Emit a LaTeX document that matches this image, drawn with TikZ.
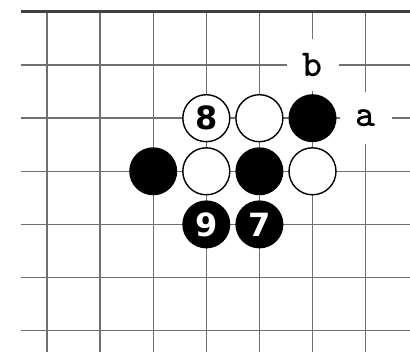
\documentclass[tikz,border=0pt]{standalone}
\usepackage{fontspec}
\newfontfamily\numfont{DejaVu Sans}
\definecolor{gridc}{RGB}{112,112,112}
\begin{document}
\begin{tikzpicture}[x=1pt,y=-1pt,
  gridline/.style={draw=gridc,line width=1.4},
  edgeline/.style={draw=black!75,line width=3},
  wstone/.style={circle,draw=black,line width=1.4,fill=white,minimum size=47,inner sep=0,
     font=\numfont\bfseries\fontsize{32}{32}\selectfont},
  bstone/.style={circle,fill=black,minimum size=48,inner sep=0,text=white,
     font=\numfont\bfseries\fontsize{32}{32}\selectfont},
  lbl/.style={fill=white,minimum size=52,inner sep=0,
     font=\ttfamily\bfseries\fontsize{38}{38}\selectfont}]
\useasboundingbox (0,0) rectangle (410,352);
\def\gs{53.1}
% grid
\foreach \j in {1,...,6} {
  \draw[gridline] (21,12+\j*\gs) -- (410,12+\j*\gs);
}
\foreach \i in {0,...,6} {
  \draw[gridline] (47+\i*\gs,12) -- (47+\i*\gs,352);
}
\draw[edgeline] (21,12) -- (410,12);
% labels
\node[lbl] (b) at (47+5*\gs,12+1*\gs) {b};
\node[lbl] (a) at (47+6*\gs,12+2*\gs) {a};
% stones
\node[wstone] (w8) at (47+3*\gs,12+2*\gs) {8};
\node[wstone] (w1) at (47+4*\gs,12+2*\gs) {};
\node[bstone] (b1) at (47+5*\gs,12+2*\gs) {};
\node[bstone] (b2) at (47+2*\gs,12+3*\gs) {};
\node[wstone] (w2) at (47+3*\gs,12+3*\gs) {};
\node[bstone] (b3) at (47+4*\gs,12+3*\gs) {};
\node[wstone] (w3) at (47+5*\gs,12+3*\gs) {};
\node[bstone] (b9) at (47+3*\gs,12+4*\gs) {9};
\node[bstone] (b7) at (47+4*\gs,12+4*\gs) {7};
\end{tikzpicture}
\end{document}
